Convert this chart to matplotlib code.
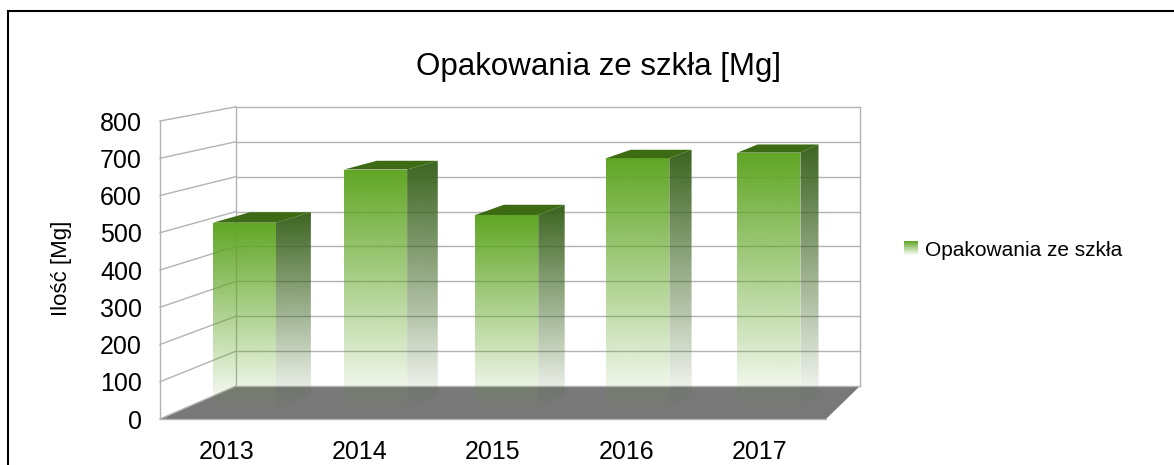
import numpy as np
import matplotlib
matplotlib.use('Agg')
import matplotlib.pyplot as plt
from matplotlib.patches import Polygon, Rectangle
from matplotlib.legend_handler import HandlerBase

years = ['2013', '2014', '2015', '2016', '2017']
values = [513, 658, 534, 689, 704]
series_name = 'Opakowania ze szkła'
title = 'Opakowania ze szkła [Mg]'
ylabel = 'Ilość [Mg]'
yticks = list(range(0, 801, 100))

plt.rcParams['font.family'] = ['Liberation Sans', 'DejaVu Sans']

GREEN = np.array([96, 166, 36]) / 255
SIDE = np.array([60, 100, 32]) / 255
TOP = '#3d6b14'
GRID = '#b3b3b3'
FLOOR = '#787878'

# fake perspective: things further back slide towards a vanishing point
VP = (8.55, 1404)
DEPTH = 0.063
X0, X1 = -0.5, len(years) - 0.5
BAR_W = 0.48
T_FRONT, T_BACK = 0.25, 0.75


def proj(x, v, t):
    k = DEPTH * t
    return x + (VP[0] - x) * k, v + (VP[1] - v) * k


def grad_face(ax, verts, color, z):
    poly = Polygon(verts, closed=True, fc='none', ec='none', zorder=z)
    ax.add_patch(poly)
    xs = [p[0] for p in verts]
    ys = [p[1] for p in verts]
    n = 200
    img = np.ones((n, 1, 4))
    img[..., :3] = color
    img[:, 0, 3] = np.linspace(0, 1, n)
    im = ax.imshow(img, extent=(min(xs), max(xs), min(ys), max(ys)),
                   origin='lower', aspect='auto', interpolation='bilinear',
                   zorder=z)
    im.set_clip_path(poly)


class GradHandler(HandlerBase):
    def create_artists(self, legend, orig_handle, xdescent, ydescent,
                       width, height, fontsize, trans):
        arts = []
        n = 20
        for i in range(n):
            f = (i + 0.5) / n
            c = (1 - f) * np.ones(3) + f * GREEN
            arts.append(Rectangle((-xdescent, -ydescent + i * height / n),
                                  width, height / n + 0.3, fc=c, ec='none',
                                  transform=trans))
        return arts


fig = plt.figure(figsize=(11.74, 4.65), dpi=100)
ax = fig.add_axes([160 / 1174, 46 / 465, 666 / 1174, 298 / 465])

# floor
floor = [proj(X0, 0, 0), proj(X1, 0, 0), proj(X1, 0, 1), proj(X0, 0, 1)]
ax.add_patch(Polygon(floor, closed=True, fc=FLOOR, ec='none', zorder=1,
                     clip_on=False))

# back wall and left wall lines
for v in yticks:
    a, b = proj(X0, v, 1), proj(X1, v, 1)
    ax.plot([a[0], b[0]], [a[1], b[1]], color=GRID, lw=1, zorder=1.5,
            clip_on=False)
    a, b = proj(X0, v, 0), proj(X0, v, 1)
    ax.plot([a[0], b[0]], [a[1], b[1]], color=GRID, lw=1, zorder=1.5,
            clip_on=False)
for x, t in [(X0, 0), (X0, 1), (X1, 1)]:
    a, b = proj(x, 0, t), proj(x, yticks[-1], t)
    ax.plot([a[0], b[0]], [a[1], b[1]], color=GRID, lw=1, zorder=1.5,
            clip_on=False)
a, b = proj(X0, 0, 0), proj(X1, 0, 0)
ax.plot([a[0], b[0]], [a[1], b[1]], color=GRID, lw=1, zorder=1.6,
        clip_on=False)

# bars
for i, val in enumerate(values):
    xl, xr = i - BAR_W / 2, i + BAR_W / 2
    z = 3 + i
    front = [proj(xl, 0, T_FRONT), proj(xr, 0, T_FRONT),
             proj(xr, val, T_FRONT), proj(xl, val, T_FRONT)]
    side = [proj(xr, 0, T_FRONT), proj(xr, 0, T_BACK),
            proj(xr, val, T_BACK), proj(xr, val, T_FRONT)]
    top = [proj(xl, val, T_FRONT), proj(xr, val, T_FRONT),
           proj(xr, val, T_BACK), proj(xl, val, T_BACK)]
    grad_face(ax, side, SIDE, z)
    grad_face(ax, front, GREEN, z + 0.1)
    ax.add_patch(Polygon(top, closed=True, fc=TOP, ec='none', zorder=z + 0.2))

ax.set_xlim(X0, X1)
ax.set_ylim(0, yticks[-1])
ax.set_xticks(range(len(years)))
ax.set_xticklabels(years)
ax.set_yticks(yticks)
ax.tick_params(length=0, labelsize=18)
ax.tick_params(axis='x', pad=15)
ax.tick_params(axis='y', pad=13)
for s in ax.spines.values():
    s.set_visible(False)
ax.patch.set_visible(False)

fig.text(598 / 1174, 1 - 67 / 465, title, ha='center', va='center',
         fontsize=22.5)
fig.text(62 / 1174, 1 - 268 / 465, ylabel, ha='center', va='center',
         rotation=90, fontsize=16)

handle = Rectangle((0, 0), 1, 1)
fig.legend([handle], [series_name], handler_map={Rectangle: GradHandler()},
           loc='center left', bbox_to_anchor=(904 / 1174, 1 - 250 / 465),
           frameon=False, fontsize=15, handlelength=0.67, handleheight=0.67,
           handletextpad=0.33, borderpad=0, borderaxespad=0)

fig.add_artist(Rectangle((8 / 1174, -0.1), 1.2, 1 - 11 / 465 + 0.1,
                         transform=fig.transFigure, fill=False, ec='black',
                         lw=1.5))

fig.savefig('out.png', dpi=100)
